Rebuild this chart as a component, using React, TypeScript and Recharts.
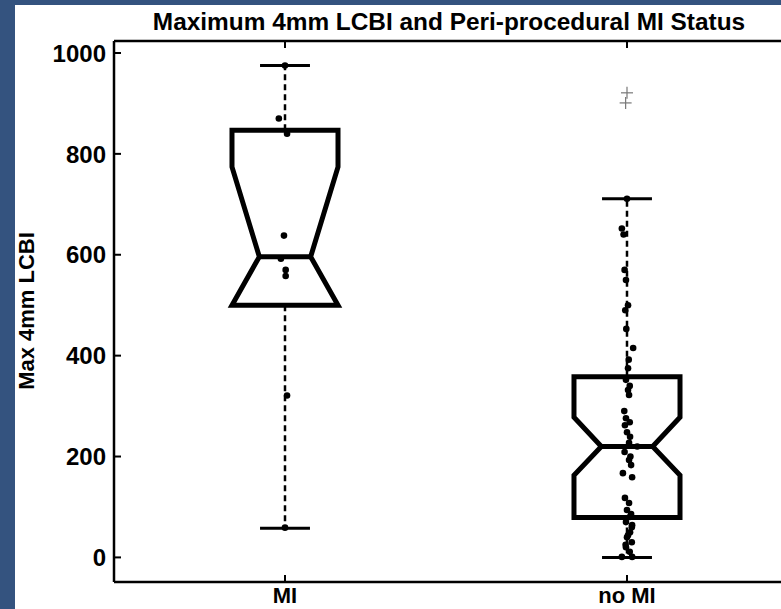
import React from "react";
import { ComposedChart, XAxis, YAxis, Line, Scatter, ReferenceLine } from "recharts";

// ---------------------------------------------------------------------------
// Data
// ---------------------------------------------------------------------------
const CATEGORIES = ["MI", "no MI"];
const Y_TICKS = [0, 200, 400, 600, 800, 1000];

// notched box statistics, one entry per category
const WHISKER_LOW = [58, 0];
const Q1 = [500, 79];
const NOTCH_LOW = [418, 163];
const MEDIAN = [596, 220];
const NOTCH_HIGH = [774, 278];
const Q3 = [847, 358];
const WHISKER_HIGH = [975, 711];

// jittered raw observations
const MI_VALUES = [975, 870, 840, 638, 592, 570, 558, 321, 59];
const MI_X = [1.0, 0.982, 1.006, 0.997, 0.988, 1.002, 1.002, 1.006, 1.0];

const NO_MI_VALUES = [
  711, 652, 640, 570, 550, 500, 490, 453, 415, 392, 375, 352, 340, 332, 322, 290,
  276, 268, 262, 248, 239, 227, 220, 209, 200, 193, 183, 167, 159, 118, 108, 94,
  86, 80, 70, 64, 60, 50, 44, 40, 30, 25, 20, 11, 1, 1,
];
const NO_MI_X = [
  2.0, 1.985, 1.99, 1.993, 1.997, 2.003, 1.995, 1.998, 2.018, 2.005, 2.003, 1.997, 2.008, 2.003, 2.006, 1.992,
  1.997, 2.008, 1.994, 2.0, 2.009, 2.006, 2.03, 1.993, 2.01, 2.006, 2.012, 1.988, 2.015, 1.994, 2.006, 2.0,
  2.012, 2.008, 1.997, 2.015, 2.014, 2.009, 2.003, 2.0, 2.014, 1.996, 1.997, 2.008, 1.985, 2.015,
];

const OUTLIER_VALUES = [921, 901];
const OUTLIER_X = [2.0, 1.996];

// ---------------------------------------------------------------------------
// Layout constants
// ---------------------------------------------------------------------------
const Y_DOMAIN: [number, number] = [-48.75, 1023.75];
const X_DOMAIN: [number, number] = [0.5, 2.4503];
const BOX_HALF = 0.155;
const NOTCH_HALF = 0.075;
const CAP_HALF = 0.073;
const FONT = "'Liberation Sans', Arial, Helvetica, sans-serif";
const TICK_LEN = 7;

const miPoints = MI_VALUES.map((y, i) => ({ x: MI_X[i], y }));
const noMiPoints = NO_MI_VALUES.map((y, i) => ({ x: NO_MI_X[i], y }));
const outliers = OUTLIER_VALUES.map((y, i) => ({ x: OUTLIER_X[i], y }));

function boxOutline(i: number) {
  const c = i + 1;
  const lo = Math.max(NOTCH_LOW[i], Q1[i]);
  const hi = Math.min(NOTCH_HIGH[i], Q3[i]);
  return [
    { x: c, y: Q3[i] },
    { x: c + BOX_HALF, y: Q3[i] },
    { x: c + BOX_HALF, y: hi },
    { x: c + NOTCH_HALF, y: MEDIAN[i] },
    { x: c + BOX_HALF, y: lo },
    { x: c + BOX_HALF, y: Q1[i] },
    { x: c - BOX_HALF, y: Q1[i] },
    { x: c - BOX_HALF, y: lo },
    { x: c - NOTCH_HALF, y: MEDIAN[i] },
    { x: c - BOX_HALF, y: hi },
    { x: c - BOX_HALF, y: Q3[i] },
    { x: c, y: Q3[i] },
  ];
}

function YTick(props: any) {
  const { x, y, payload } = props;
  return (
    <g>
      <line x1={x} x2={x + TICK_LEN} y1={y} y2={y} stroke="#000" strokeWidth={2} />
      <text x={x - 8} y={y} dy="0.36em" textAnchor="end" fontFamily={FONT} fontWeight="bold" fontSize={24} fill="#000">
        {payload.value}
      </text>
    </g>
  );
}

function XTick(props: any) {
  const { x, y, payload } = props;
  return (
    <g>
      <line x1={x} x2={x} y1={y} y2={y - TICK_LEN} stroke="#000" strokeWidth={2} />
      <text x={x} y={y + 21} textAnchor="middle" fontFamily={FONT} fontWeight="bold" fontSize={22} fill="#000">
        {CATEGORIES[payload.value - 1]}
      </text>
    </g>
  );
}

function TopTick(props: any) {
  const { x, y } = props;
  return <line x1={x} x2={x} y1={y} y2={y + TICK_LEN} stroke="#000" strokeWidth={2} />;
}

const Dot = (p: any) => <circle cx={p.cx} cy={p.cy} r={3.3} fill="#000" />;
const Plus = (p: any) => (
  <g stroke="#777" strokeWidth={1.2}>
    <line x1={p.cx - 6} x2={p.cx + 6} y1={p.cy} y2={p.cy} />
    <line x1={p.cx} x2={p.cx} y1={p.cy - 6} y2={p.cy + 6} />
  </g>
);

export default function App() {
  return (
    <div style={{ position: "absolute", left: 0, top: 0, width: 781, height: 609, background: "#34537f", overflow: "hidden" }}>
      <div style={{ position: "absolute", left: 15, top: 5, width: 766, height: 604, background: "#fff" }}>
        <div
          style={{
            position: "absolute",
            left: 434,
            top: 5,
            transform: "translateX(-50%)",
            whiteSpace: "nowrap",
            fontFamily: FONT,
            fontWeight: "bold",
            fontSize: 24.4,
            lineHeight: "24px",
            color: "#000",
          }}
        >
          Maximum 4mm LCBI and Peri-procedural MI Status
        </div>
        <div
          style={{
            position: "absolute",
            left: 12 - 110,
            top: 306 - 12,
            width: 220,
            height: 24,
            transform: "rotate(-90deg)",
            textAlign: "center",
            fontFamily: FONT,
            fontWeight: "bold",
            fontSize: 22,
            lineHeight: "24px",
            color: "#000",
          }}
        >
          Max 4mm LCBI
        </div>
        <ComposedChart width={766} height={604} margin={{ top: 6, right: 0, bottom: 0, left: 0 }}>
          <XAxis
            xAxisId="top"
            orientation="top"
            type="number"
            dataKey="x"
            domain={X_DOMAIN}
            allowDataOverflow
            ticks={[1, 2]}
            height={30}
            tickSize={0}
            tickMargin={0}
            tickLine={false}
            tick={<TopTick />}
            axisLine={{ stroke: "#000", strokeWidth: 2.5 }}
          />
          <XAxis
            type="number"
            dataKey="x"
            domain={X_DOMAIN}
            allowDataOverflow
            ticks={[1, 2]}
            height={27}
            tickSize={0}
            tickMargin={0}
            tickLine={false}
            tick={<XTick />}
            axisLine={{ stroke: "#000", strokeWidth: 2.5 }}
          />
          <YAxis
            type="number"
            dataKey="y"
            domain={Y_DOMAIN}
            allowDataOverflow
            ticks={Y_TICKS}
            width={99}
            tickSize={0}
            tickMargin={0}
            tickLine={false}
            tick={<YTick />}
            axisLine={{ stroke: "#000", strokeWidth: 2.5 }}
          />

          {CATEGORIES.map((_, i) => (
            <ReferenceLine
              key={`wh-${i}`}
              segment={[{ x: i + 1, y: Q3[i] }, { x: i + 1, y: WHISKER_HIGH[i] }]}
              stroke="#000"
              strokeWidth={2.5}
              strokeDasharray="6 4"
            />
          ))}
          {CATEGORIES.map((_, i) => (
            <ReferenceLine
              key={`wl-${i}`}
              segment={[{ x: i + 1, y: Q1[i] }, { x: i + 1, y: WHISKER_LOW[i] }]}
              stroke="#000"
              strokeWidth={2.5}
              strokeDasharray="6 4"
            />
          ))}
          {CATEGORIES.map((_, i) => (
            <ReferenceLine
              key={`ch-${i}`}
              segment={[{ x: i + 1 - CAP_HALF, y: WHISKER_HIGH[i] }, { x: i + 1 + CAP_HALF, y: WHISKER_HIGH[i] }]}
              stroke="#000"
              strokeWidth={3}
            />
          ))}
          {CATEGORIES.map((_, i) => (
            <ReferenceLine
              key={`cl-${i}`}
              segment={[{ x: i + 1 - CAP_HALF, y: WHISKER_LOW[i] }, { x: i + 1 + CAP_HALF, y: WHISKER_LOW[i] }]}
              stroke="#000"
              strokeWidth={3}
            />
          ))}
          {CATEGORIES.map((_, i) => (
            <ReferenceLine
              key={`md-${i}`}
              segment={[{ x: i + 1 - NOTCH_HALF, y: MEDIAN[i] }, { x: i + 1 + NOTCH_HALF, y: MEDIAN[i] }]}
              stroke="#000"
              strokeWidth={5}
            />
          ))}
          {CATEGORIES.map((_, i) => (
            <Line
              key={`box-${i}`}
              data={boxOutline(i)}
              dataKey="y"
              type="linear"
              stroke="#000"
              strokeWidth={5}
              strokeLinejoin="miter"
              dot={false}
              activeDot={false}
              isAnimationActive={false}
            />
          ))}
          <Scatter data={miPoints} dataKey="y" shape={Dot} isAnimationActive={false} />
          <Scatter data={noMiPoints} dataKey="y" shape={Dot} isAnimationActive={false} />
          <Scatter data={outliers} dataKey="y" shape={Plus} isAnimationActive={false} />
        </ComposedChart>
      </div>
    </div>
  );
}
